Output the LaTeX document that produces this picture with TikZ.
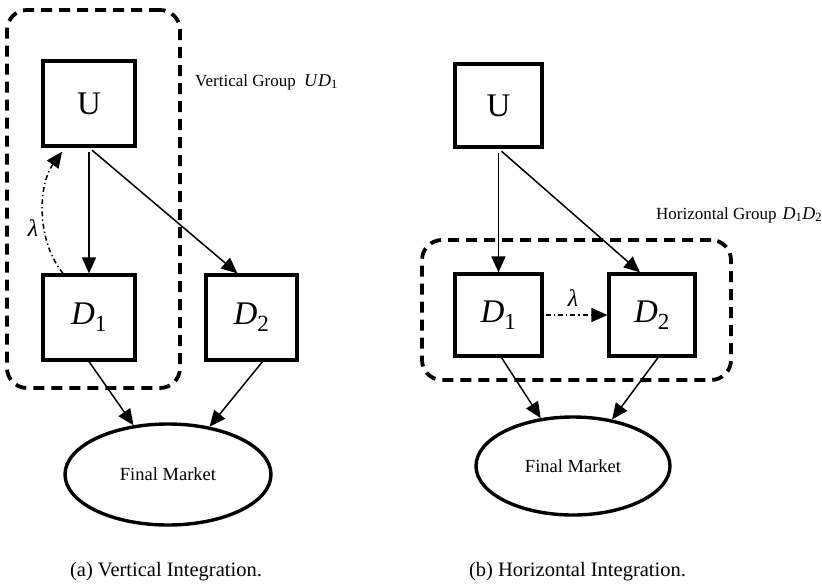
\documentclass[tikz,border=0pt]{standalone}
\usepackage{fontspec}
\setmainfont{Liberation Serif}
\usetikzlibrary{arrows.meta,shapes.geometric}
\newcommand\myD[1]{\textit{D}\textsubscript{#1}}
\newcommand\mathpart[1]{{\fontsize{18}{20}\selectfont #1}}
\begin{document}
\begin{tikzpicture}[x=1pt,y=-1pt,
  box/.style={draw,line width=3.2pt,minimum width=90pt,minimum height=84pt,inner sep=0pt,font=\fontsize{33}{36}\selectfont},
  grp/.style={draw,line width=3.8pt,dash pattern=on 11pt off 7pt,rounded corners=20pt,inner sep=0pt},
  market/.style={draw,ellipse,line width=3.4pt,inner sep=0pt,font=\fontsize{18.5}{20}\selectfont},
  conn/.style={line width=1.5pt,-{Triangle[length=16pt,width=14pt]}},
  lam/.style={conn,dash pattern=on 5pt off 3pt on 1.3pt off 3pt},
  lamlab/.style={font=\fontsize{24}{26}\selectfont\itshape,inner sep=0pt},
  lab/.style={font=\fontsize{17}{20}\selectfont,inner sep=0pt,anchor=west},
  captext/.style={font=\fontsize{20.5}{24}\selectfont,inner sep=0pt}]
\useasboundingbox (0,0) rectangle (822,587);
\fill[white] (0,0) rectangle (822,587);

% ---------- (a) Vertical integration ----------
\node[grp,minimum width=173pt,minimum height=378pt] (G1) at (93.5,199) {};
\node[box,minimum width=92pt,minimum height=85pt] (U1) at (89,103.5) {U};
\node[box,minimum width=92pt,minimum height=85pt] (A1) at (89,317.5) {\myD{1}};
\node[box,minimum width=91pt,minimum height=85pt] (B1) at (251.5,317.5) {\myD{2}};
\node[market,minimum width=206pt,minimum height=101pt] (M1) at (168,474.5) {Final Market};
\node[lab] (VG) at (195,82) {Vertical Group\ \ \mathpart{\textit{U}\myD{1}}};

\draw[conn,shorten <=4pt] (U1.south) -- (A1.north);
\draw[conn,shorten <=4pt] (U1.south) -- ([xshift=-14pt]B1.north);
\draw[lam,shorten >=5pt] ([xshift=-26pt]A1.north) .. controls (36,240) and (38,185) .. ([xshift=-24pt]U1.south);
\node[lamlab] (L1) at (33,228) {λ};
\draw[conn] (A1.south) -- (M1.125);
\draw[conn] ([xshift=11pt]B1.south) -- (M1.49);
\node[captext] (CA) at (166,572) {(a) Vertical Integration.};

% ---------- (b) Horizontal integration ----------
\node[grp,minimum width=309pt,minimum height=140pt] (G2) at (576.5,310) {};
\node[box,minimum width=87pt,minimum height=83pt] (U2) at (498.5,105.5) {U};
\node[box,minimum width=87pt,minimum height=82pt] (A2) at (498.5,315) {\myD{1}};
\node[box,minimum width=86pt,minimum height=82pt] (B2) at (652,315) {\myD{2}};
\node[market,minimum width=194pt,minimum height=98pt] (M2) at (573,466) {Final Market};
\node[lab] (HG) at (656,215) {Horizontal Group\hspace{6pt}\mathpart{\myD{1}\myD{2}}};

\draw[conn,shorten <=4pt] (U2.south) -- (A2.north);
\draw[conn,shorten <=4pt] (U2.south) -- ([xshift=-12pt]B2.north);
\draw[lam,shorten <=2pt] (A2.east) -- (B2.west);
\node[lamlab] (L2) at (573,298) {λ};
\draw[conn] ([xshift=3pt]A2.south) -- (M2.124);
\draw[conn] ([xshift=6pt]B2.south) -- (M2.50);
\node[captext] (CB) at (577.5,572) {(b) Horizontal Integration.};
\end{tikzpicture}
\end{document}
